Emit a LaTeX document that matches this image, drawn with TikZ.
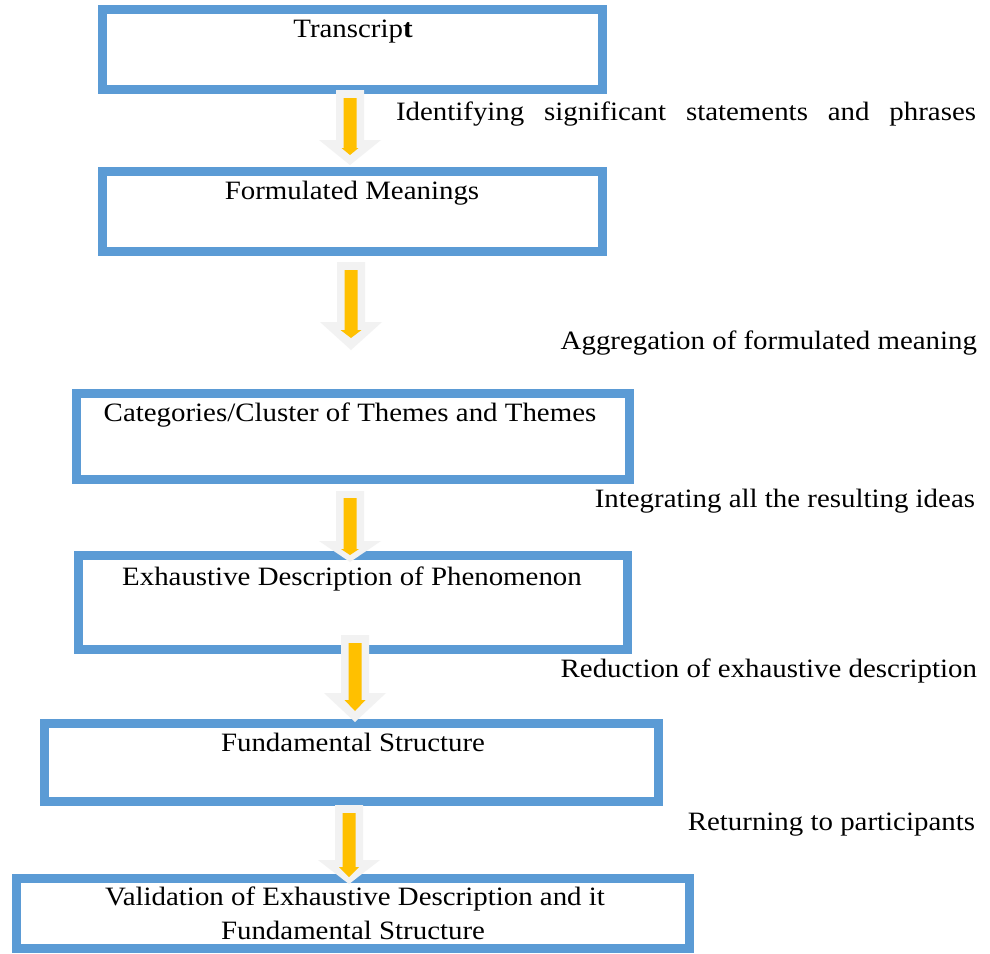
\documentclass[tikz,border=0pt]{standalone}
\usepackage{fontspec}
\setmainfont{Liberation Serif}[FakeStretch=1.09]
\definecolor{boxblue}{HTML}{5B9BD5}
\definecolor{arrorange}{HTML}{FFC000}
\definecolor{arrgray}{HTML}{F2F2F2}
\newcommand\blkarrow[7]{%
  \fill[#7] (#1-#5,#2) -- (#1+#5,#2) -- (#1+#5,#3) -- (#1+#6,#3) -- (#1,#4)
    -- (#1-#6,#3) -- (#1-#5,#3) -- cycle;}
\newcommand\flowarrow[8]{%
  \blkarrow{#1}{#2}{#3}{#4}{14}{31}{arrgray}%
  \blkarrow{#1}{#5}{#6}{#7}{6.5}{#8}{arrorange}}
\begin{document}
\begin{tikzpicture}[x=1pt,y=-1pt,
  box/.style={draw=boxblue,line width=9pt,inner sep=0pt,outer sep=0pt},
  lbl/.style={font=\fontsize{26.5}{33}\selectfont,inner sep=0pt,outer sep=0pt}]
\useasboundingbox (0,0) rectangle (990,953);
\fill[white] (0,0) rectangle (990,953);

% boxes
\node[box,minimum width=500pt,minimum height=80pt] (b1) at (352.5,49.5) {};
\node[box,minimum width=500pt,minimum height=80pt] (b2) at (352.5,211.5) {};
\node[box,minimum width=553pt,minimum height=86pt] (b3) at (353,436.5) {};
\node[box,minimum width=549pt,minimum height=94pt] (b4) at (353,602.5) {};
\node[box,minimum width=614pt,minimum height=78pt] (b5) at (351.5,762.5) {};
\node[box,minimum width=673pt,minimum height=70pt] (b6) at (353,913.5) {};

% box texts
\node[lbl,anchor=base] (t1) at (353,37) {Transcrip\textbf{t}};
\node[lbl,anchor=base] (t2) at (352,199) {Formulated Meanings};
\node[lbl,anchor=base] (t3) at (350,421) {Categories/Cluster of Themes and Themes};
\node[lbl,anchor=base] (t4) at (352,585) {Exhaustive Description of Phenomenon};
\node[lbl,anchor=base] (t5) at (353,751) {Fundamental Structure};
\node[lbl,anchor=base] (t6a) at (355,905) {Validation of Exhaustive Description and it};
\node[lbl,anchor=base] (t6b) at (353,939) {Fundamental Structure};

% arrows
\flowarrow{350}{90}{140}{165}{98}{148}{155}{8.5}
\flowarrow{351}{262}{322}{350}{270}{330}{338}{10.5}
\flowarrow{350}{491}{541}{562}{498}{549}{555}{9}
\flowarrow{355}{635}{693}{722}{643}{700}{711}{10.5}
\flowarrow{349}{805}{860}{884}{813}{867}{877}{10}

% side labels
\node[lbl,anchor=base east] (l1) at (976,120) {\makebox[580pt][s]{Identifying significant statements and phrases}};
\node[lbl,anchor=base east] (l2) at (977,349) {Aggregation of formulated meaning};
\node[lbl,anchor=base east] (l3) at (975,507) {Integrating all the resulting ideas};
\node[lbl,anchor=base east] (l4) at (977,677) {Reduction of exhaustive description};
\node[lbl,anchor=base east] (l5) at (975,830) {Returning to participants};
\end{tikzpicture}
\end{document}
